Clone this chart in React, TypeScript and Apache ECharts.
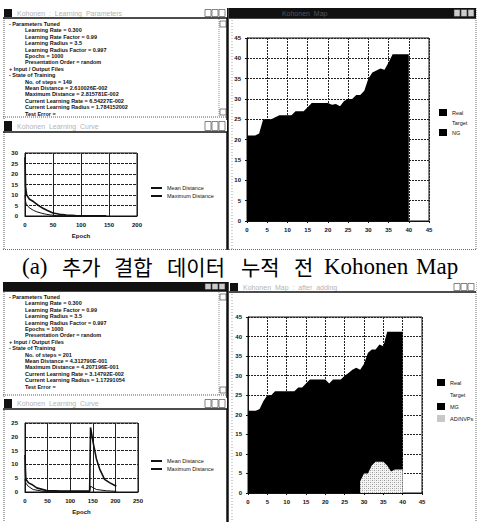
import React, { useEffect, useRef } from "react";
import * as echarts from "echarts";

// ---------- data ----------
const mapTicks = [0, 5, 10, 15, 20, 25, 30, 35, 40, 45];

// upper boundary of the dark (Real) region, map (a) top
const realTop: [number, number][] = [
  [0, 21], [1, 21], [2, 21], [3, 21.5], [4, 25], [5, 25], [6, 25], [7, 25.5], [8, 26], [9, 26],
  [10, 26], [11, 26], [12, 27], [13, 27], [14, 27], [15, 28], [16, 29], [17, 29], [18, 29], [19, 29],
  [20, 29], [21, 28.6], [22, 28.8], [23, 28.2], [24, 29.5], [25, 30], [26, 30], [27, 31], [28, 31],
  [29, 32], [30, 35], [31, 36.5], [32, 37], [33, 37.5], [34, 37.2], [35, 39], [36, 41], [37, 41],
  [38, 41], [39, 41], [40, 41],
];

// map (bottom) upper boundary of dark region
const realBottom: [number, number][] = [
  [0, 21], [1, 21], [2, 21], [3, 21.5], [4, 23.5], [5, 25], [6, 25], [7, 26], [8, 26], [9, 26],
  [10, 26], [11, 26], [12, 26], [13, 27], [14, 27], [15, 28], [16, 29], [17, 29], [18, 29], [19, 29],
  [20, 29], [21, 28], [22, 29], [23, 29], [24, 29], [25, 30], [26, 30.7], [27, 31.5], [28, 32],
  [29, 31.5], [30, 33], [31, 35.8], [32, 36.7], [33, 36.7], [34, 38], [35, 37.5], [36, 41.2],
  [37, 41.2], [38, 41.2], [39, 41.2], [40, 41.2],
];

// light dotted region (AD/NVPs) in bottom map
const adBottom: [number, number][] = [
  [29, 3], [30, 5], [31, 5], [32, 7], [33, 8], [34, 8], [35, 8], [36, 7], [37, 5.5], [38, 6], [39, 6], [40, 6],
];

// training curves (top)
const maxTop: [number, number][] = [
  [0, 28], [1, 14], [3, 10], [8, 8], [15, 6.9], [25, 4.8], [32, 3.7], [40, 2.6], [50, 1.4],
  [62, 0.8], [74, 0.5], [90, 0.2], [103, 0.1], [145, 0.05],
];
const meanTop: [number, number][] = [
  [0, 10], [1, 7], [2, 6], [5, 4.6], [9, 3.7], [15, 2.7], [21, 2], [30, 1.3], [38, 0.8], [48, 0.4],
  [56, 0.2], [80, 0.1], [145, 0.05],
];

// training curves (bottom, after adding data)
const maxBottom: [number, number][] = [
  [0, 13.4], [1, 8], [2, 4.6], [8, 3.3], [15, 2.75], [26, 1.5], [48, 0.5], [80, 0.35], [143, 0.3],
  [145, 23.4], [151, 17.7], [158, 12], [165, 8.4], [176, 4.6], [187, 3.4], [202, 2.1],
];
const meanBottom: [number, number][] = [
  [0, 4.6], [2, 3.2], [7, 2.1], [18, 0.9], [40, 0.25], [143, 0.2], [145, 2.1], [158, 0.9],
  [180, 0.45], [202, 0.25],
];

const topLines: [string, number][] = [
  ["- Parameters Tuned", 0],
  ["Learning Rate = 0.300", 1],
  ["Learning Rate Factor = 0.99", 1],
  ["Learning Radius = 3.5", 1],
  ["Learning Radius Factor = 0.997", 1],
  ["Epochs = 1000", 1],
  ["Presentation Order = random", 1],
  ["+ Input / Output Files", 0],
  ["- State of Training", 0],
  ["No. of steps = 149", 1],
  ["Mean Distance = 2.610026E-002", 1],
  ["Maximum Distance = 2.815781E-002", 1],
  ["Current Learning Rate = 6.54227E-002", 1],
  ["Current Learning Radius = 1.784152002", 1],
  ["Test Error = ", 1],
];
const bottomLines: [string, number][] = [
  ["- Parameters Tuned", 0],
  ["Learning Rate = 0.300", 1],
  ["Learning Rate Factor = 0.99", 1],
  ["Learning Radius = 3.5", 1],
  ["Learning Radius Factor = 0.997", 1],
  ["Epochs = 1000", 1],
  ["Presentation Order = random", 1],
  ["+ Input / Output Files", 0],
  ["- State of Training", 0],
  ["No. of steps = 201", 1],
  ["Mean Distance = 4.312790E-001", 1],
  ["Maximum Distance = 4.207196E-001", 1],
  ["Current Learning Rate = 3.14792E-002", 1],
  ["Current Learning Radius = 1.17291054", 1],
  ["Test Error = ", 1],
];

const captionWords: [string, number, boolean][] = [
  ["(a)", 22, false], ["추가", 62, true], ["결합", 114, true], ["데이터", 167, true],
  ["누적", 241, true], ["전", 294, true], ["Kohonen", 324, false], ["Map", 416, false],
];

// ---------- helpers ----------
const INK = "#111";
const NARROW = "Liberation Sans Narrow, Liberation Sans";
const SMALL = { fontSize: 6, color: INK, fontWeight: "bold" as const, fontFamily: "Liberation Sans" };
const LEG = { fontSize: 5.5, color: INK, fontFamily: NARROW };

function titleBar(x: number, y: number, w: number, h: number, active: boolean, label: string) {
  const els: any[] = [
    { type: "rect", shape: { x, y, width: w, height: h }, style: { fill: active ? "#111" : "#fff" } },
    { type: "rect", shape: { x: x + 1, y: y + 1, width: 8, height: h - 2 }, style: { fill: "#111" } },
    {
      type: "text", x: x + 14, y: y + h / 2,
      style: { text: label, fontSize: 7, fill: active ? "#555" : "#b4b4b4", verticalAlign: "middle", fontFamily: "Liberation Sans" },
    },
  ];
  [22, 15, 8].forEach((d) => {
    els.push({
      type: "rect", shape: { x: x + w - d, y: y + 1.5, width: 6, height: h - 3 },
      style: { fill: active ? "#ccc" : "#fff", stroke: "#333", lineWidth: 0.6 },
    });
  });
  els.push({ type: "line", shape: { x1: x, y1: y + h, x2: x + w, y2: y + h }, style: { stroke: INK, lineWidth: 1.5 } });
  return els;
}

function textWindow(lines: [string, number][], top: number, bottom: number) {
  const els: any[] = [];
  lines.forEach(([t, lvl], i) => {
    els.push({
      type: "text", x: lvl === 0 ? 9 : 25, y: top + 5 + i * 6.4,
      style: { text: t, fontSize: 5.5, fill: INK, fontWeight: "bold", verticalAlign: "middle", fontFamily: NARROW },
    });
  });
  // scrollbar
  els.push({ type: "line", shape: { x1: 219, y1: top, x2: 219, y2: bottom }, style: { stroke: "#444", lineWidth: 0.6, lineDash: [1, 1] } });
  els.push({ type: "rect", shape: { x: 220, y: top + 2, width: 6, height: 6 }, style: { fill: "#fff", stroke: "#333", lineWidth: 0.6 } });
  els.push({ type: "rect", shape: { x: 220, y: bottom - 8, width: 6, height: 6 }, style: { fill: "#fff", stroke: "#333", lineWidth: 0.6 } });
  els.push({ type: "line", shape: { x1: 3, y1: bottom, x2: 227, y2: bottom }, style: { stroke: "#333", lineWidth: 0.8, lineDash: [1, 1] } });
  return els;
}

function frame(y0: number, y1: number) {
  return [
    { type: "line", shape: { x1: 4, y1: y0, x2: 4, y2: y1 }, style: { stroke: "#333", lineWidth: 0.8, lineDash: [1, 1] } },
    { type: "line", shape: { x1: 227.5, y1: y0, x2: 227.5, y2: y1 }, style: { stroke: INK, lineWidth: 2.5 } },
    { type: "line", shape: { x1: 232, y1: y0 + 12, x2: 232, y2: y1 }, style: { stroke: "#666", lineWidth: 0.6, lineDash: [1, 2] } },
    { type: "line", shape: { x1: 476, y1: y0, x2: 476, y2: y1 }, style: { stroke: "#444", lineWidth: 0.8, lineDash: [1, 1] } },
  ];
}

function lineAxes(grid: number, xmax: number, ymax: number) {
  const x = {
    type: "value", gridIndex: grid, min: 0, max: xmax, interval: 50,
    axisLine: { show: true, lineStyle: { color: INK } }, axisTick: { show: false },
    axisLabel: { ...SMALL, margin: 6 },
    splitLine: { show: true, lineStyle: { color: "#222", width: 1 } },
    name: "Epoch", nameLocation: "middle", nameGap: 17, nameTextStyle: { ...SMALL },
  };
  const y = {
    type: "value", gridIndex: grid, min: 0, max: ymax, interval: 5,
    axisLine: { show: true, lineStyle: { color: INK } }, axisTick: { show: false },
    axisLabel: { ...SMALL, margin: 7 },
    splitLine: { show: true, lineStyle: { color: "#222", width: 1, type: [3, 1] } },
  };
  return [x, y];
}

function mapAxes(grid: number) {
  const common = {
    type: "value", gridIndex: grid, min: mapTicks[0], max: mapTicks[mapTicks.length - 1], interval: 5,
    axisLine: { show: true, lineStyle: { color: INK, width: 1 } },
    axisTick: { show: true, length: 2, lineStyle: { color: INK } },
    axisLabel: { ...SMALL, margin: 6 },
    splitLine: { show: true, lineStyle: { color: "#222", width: 1, type: [2, 1] } },
  };
  return [common, { ...common }];
}

export default function App() {
  const ref = useRef<HTMLDivElement>(null);
  useEffect(() => {
    if (!ref.current) return;
    const chart = echarts.init(ref.current, undefined, { renderer: "svg" });

    const c = document.createElement("canvas");
    c.width = 4; c.height = 4;
    const ctx = c.getContext("2d")!;
    ctx.fillStyle = "#f4f4f4"; ctx.fillRect(0, 0, 4, 4);
    ctx.fillStyle = "#999"; ctx.fillRect(0, 0, 1, 1); ctx.fillRect(2, 2, 1, 1);
    ctx.fillStyle = "#c4c4c4"; ctx.fillRect(2, 0, 1, 1); ctx.fillRect(0, 2, 1, 1);

    const [x0, y0] = lineAxes(0, 200, 30);
    const [x1, y1] = mapAxes(1);
    const [x2, y2] = lineAxes(2, 250, 25);
    const [x3, y3] = mapAxes(3);

    const lineSeries = (name: string, data: any, idx: number, w: number) => ({
      type: "line", name, data, xAxisIndex: idx, yAxisIndex: idx, showSymbol: false, symbol: "none",
      color: INK, lineStyle: { color: INK, width: w },
    });
    const areaSeries = (name: string, data: any, idx: number, color: any, z = 2) => ({
      type: "line", name, data, xAxisIndex: idx, yAxisIndex: idx, showSymbol: false, symbol: "none",
      color: typeof color === "string" ? color : "#c8c8c8", lineStyle: { width: 0 },
      areaStyle: { color, opacity: 1 }, z,
    });

    const graphic: any[] = [
      ...frame(8, 250),
      ...frame(282, 522),
      ...titleBar(3, 8, 224, 10, false, "Kohonen  :  Learning  Parameters"),
      ...textWindow(topLines, 19, 117),
      ...titleBar(3, 120, 224, 12, false, "Kohonen  Learning  Curve"),
      ...titleBar(229, 8, 247, 10, true, "                    Kohonen  Map"),
      { type: "line", shape: { x1: 3, y1: 249.5, x2: 476, y2: 249.5 }, style: { stroke: "#444", lineWidth: 0.8, lineDash: [1, 1] } },
      ...titleBar(3, 282, 224, 9, true, ""),
      ...textWindow(bottomLines, 292, 395),
      ...titleBar(3, 398, 224, 11, false, "Kohonen  Learning  Curve"),
      ...titleBar(229, 282, 247, 10, false, "Kohonen  Map  :  after  adding"),
    ];
    captionWords.forEach(([t, x, ko]) => {
      graphic.push({
        type: "text", x, y: 266,
        style: {
          text: t, fontSize: ko ? 21 : 23, fill: "#000", verticalAlign: "middle",
          fontFamily: ko ? "Noto Sans CJK KR" : "Liberation Serif",
        },
      });
    });

    chart.setOption({
      animation: false,
      backgroundColor: "#fff",
      textStyle: { fontFamily: "Liberation Sans" },
      grid: [
        { left: 25, top: 153, width: 112, height: 63, show: true, borderColor: INK, borderWidth: 1, backgroundColor: "#fff" },
        { left: 247, top: 38, width: 182, height: 183, show: true, borderColor: INK, borderWidth: 1, backgroundColor: "#fff" },
        { left: 25, top: 423, width: 113, height: 69, show: true, borderColor: INK, borderWidth: 1, backgroundColor: "#fff" },
        { left: 248, top: 317, width: 174, height: 176, show: true, borderColor: INK, borderWidth: 1, backgroundColor: "#fff" },
      ],
      xAxis: [x0, x1, x2, x3],
      yAxis: [y0, y1, y2, y3],
      legend: [
        {
          left: 151, top: 185, orient: "vertical", icon: "rect", itemWidth: 11, itemHeight: 2, itemGap: 2,
          data: ["Mean Distance", "Maximum Distance"], textStyle: { ...LEG }, selectedMode: false, padding: 0,
        },
        {
          left: 151, top: 458, orient: "vertical", icon: "rect", itemWidth: 11, itemHeight: 2, itemGap: 2,
          data: ["Mean Distance ", "Maximum Distance "], textStyle: { ...LEG }, selectedMode: false, padding: 0,
        },
        {
          left: 439, top: 109, orient: "vertical", icon: "rect", itemWidth: 8, itemHeight: 7, itemGap: 3,
          data: ["Real", "Target", "NG"], textStyle: { ...LEG }, selectedMode: false, padding: 0,
        },
        {
          left: 437, top: 379, orient: "vertical", icon: "rect", itemWidth: 8, itemHeight: 7, itemGap: 5,
          data: ["Real ", "Target ", "MG", "AD/NVPs"], textStyle: { ...LEG }, selectedMode: false, padding: 0,
        },
      ],
      series: [
        lineSeries("Mean Distance", meanTop, 0, 1),
        lineSeries("Maximum Distance", maxTop, 0, 1.6),
        areaSeries("Real", realTop, 1, "#000"),
        areaSeries("Target", [], 1, "#fff"),
        areaSeries("NG", [], 1, "#000"),
        lineSeries("Mean Distance ", meanBottom, 2, 1),
        lineSeries("Maximum Distance ", maxBottom, 2, 1.6),
        areaSeries("Real ", realBottom, 3, "#000"),
        areaSeries("Target ", [], 3, "#fff"),
        areaSeries("MG", [], 3, "#000"),
        areaSeries("AD/NVPs", adBottom, 3, { image: c, repeat: "repeat" }, 3),
      ],
      graphic,
    });
    return () => chart.dispose();
  }, []);
  return <div ref={ref} style={{ position: "fixed", left: 0, top: 0, width: 477, height: 522 }} />;
}
